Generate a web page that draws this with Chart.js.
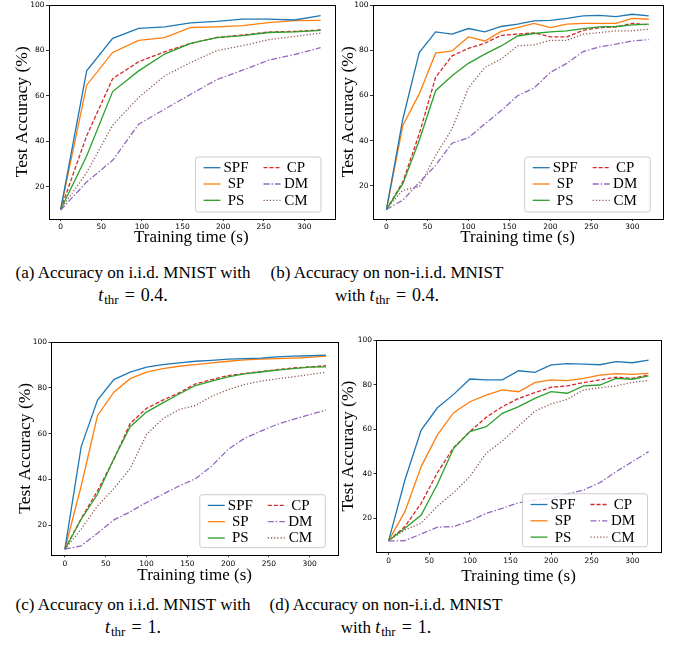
<!DOCTYPE html>
<html>
<head>
<meta charset="utf-8">
<title>Test accuracy vs training time</title>
<script src="https://cdn.jsdelivr.net/npm/chart.js"></script>
<style>
  body { margin: 0; background: #fff; width: 677px; height: 647px; position: relative; overflow: hidden; }
  .plot { position: absolute; }
  .cap { position: absolute; font-family: "Liberation Serif", "Times New Roman", serif; font-size: 17px;
         line-height: 22px; text-align: center; color: #000; white-space: nowrap; }
  .cap .m { font-size: 18px; }
  .cap .sb { font-size: 13px; position: relative; top: 3px; margin-left: 1px; }
  .cap .eq { margin: 0 6px; }
</style>
</head>
<body>
<canvas id="chartA" class="plot"></canvas>
<canvas id="chartB" class="plot"></canvas>
<canvas id="chartC" class="plot"></canvas>
<canvas id="chartD" class="plot"></canvas>

<div class="cap" style="left:0px; top:262px; width:266px;">(a) Accuracy on i.i.d. MNIST with<br><span class="m"><i>t</i><span class="sb">thr</span><span class="eq">=</span>0.4.</span></div>
<div class="cap" style="left:247px; top:262px; width:280px;">(b) Accuracy on non-i.i.d. MNIST<br>with <span class="m"><i>t</i><span class="sb">thr</span><span class="eq">=</span>0.4.</span></div>
<div class="cap" style="left:0px; top:594px; width:266px;">(c) Accuracy on i.i.d. MNIST with<br><span class="m"><i>t</i><span class="sb">thr</span><span class="eq">=</span>1.</span></div>
<div class="cap" style="left:246px; top:594px; width:280px;">(d) Accuracy on non-i.i.d. MNIST<br>with <span class="m"><i>t</i><span class="sb">thr</span><span class="eq">=</span>1.</span></div>

<script>
// series names (legend order)
const labels = ['SPF', 'SP', 'PS', 'CP', 'DM', 'CM'];
const xTicks = [0, 50, 100, 150, 200, 250, 300];
const yTicks = [20, 40, 60, 80, 100];

// (a) i.i.d., t_thr = 0.4
const timesA = [0, 32, 64, 96, 128, 160, 192, 224, 256, 288, 320];
const spfA = [10, 71, 85.3, 89.7, 90.4, 92.1, 92.8, 93.8, 93.8, 93.4, 95.3];
const spA  = [10, 64.7, 79.1, 84.4, 85.6, 90.1, 90.4, 90.9, 92.2, 93.1, 93.2];
const psA  = [10, 33.5, 61.9, 71.0, 78.4, 83.1, 85.6, 86.5, 87.9, 88.2, 88.8];
const cpA  = [10, 42.4, 67.6, 75.0, 79.4, 83.1, 85.7, 86.8, 88.1, 88.4, 89.0];
const dmA  = [9.7, 22.1, 31.6, 47.5, 54.1, 60.7, 67.1, 71.3, 75.7, 78.2, 81.2];
const cmA  = [10, 26.2, 47.1, 59.3, 68.8, 74.7, 79.9, 82.1, 84.7, 86.2, 87.6];

// (b), (c), (d) sampled every 20 s
const times20 = [0, 20, 40, 60, 80, 100, 120, 140, 160, 180, 200, 220, 240, 260, 280, 300, 320];

// (b) non-i.i.d., t_thr = 0.4
const spfB = [9.5, 49.6, 79.0, 88.1, 87.1, 89.6, 88.1, 90.5, 91.5, 93.0, 93.2, 94.1, 95.2, 95.4, 94.9, 95.9, 95.2];
const spB  = [9.5, 46.7, 60.7, 78.7, 79.7, 85.9, 84.1, 88.3, 90.0, 91.9, 90.0, 91.5, 91.9, 91.9, 91.9, 94.1, 93.7];
const psB  = [9.5, 21.0, 40.1, 62.1, 68.7, 74.2, 78.3, 81.9, 86.3, 87.4, 88.1, 88.6, 89.6, 90.3, 90.5, 91.2, 91.5];
const cpB  = [9.5, 21.8, 43.0, 68.0, 77.5, 80.8, 83.1, 86.6, 87.1, 87.7, 85.9, 85.9, 88.8, 90.0, 90.3, 91.9, 91.2];
const dmB  = [9.6, 13.7, 21.5, 29.1, 38.9, 41.3, 47.4, 53.3, 59.9, 63.3, 70.2, 74.2, 79.4, 81.5, 82.7, 84.1, 84.7];
const cmB  = [10.0, 18.1, 19.6, 33.5, 45.2, 63.3, 72.4, 76.1, 81.9, 82.4, 84.4, 84.4, 87.1, 87.8, 88.6, 88.6, 89.3];

// (c) i.i.d., t_thr = 1
const spfC = [9.5, 54.3, 74.6, 83.6, 86.8, 89.0, 90.1, 90.9, 91.6, 92.0, 92.5, 92.7, 93.0, 93.5, 93.8, 94.0, 94.3];
const spC  = [9.5, 37.1, 67.9, 78.1, 84.0, 86.8, 88.4, 89.4, 90.1, 90.9, 91.6, 92.2, 92.5, 92.7, 93.0, 93.3, 93.8];
const psC  = [9.5, 22.6, 33.5, 49.0, 63.0, 69.4, 73.4, 77.3, 81.0, 82.9, 84.8, 86.1, 86.9, 87.7, 88.4, 89.0, 89.1];
const cpC  = [9.5, 22.9, 35.0, 48.7, 64.4, 71.0, 74.6, 77.8, 81.7, 83.6, 85.3, 86.2, 87.1, 87.9, 88.7, 89.1, 89.7];
const dmC  = [9.5, 11.0, 16.5, 22.3, 25.8, 29.9, 33.5, 37.1, 40.3, 45.8, 53.1, 57.9, 61.1, 64.0, 66.2, 68.3, 70.2];
const cmC  = [9.5, 18.3, 28.4, 36.0, 44.7, 59.6, 66.5, 70.5, 72.3, 76.3, 79.2, 81.4, 82.9, 83.9, 84.8, 85.8, 86.8];

// (d) non-i.i.d., t_thr = 1
const spfD = [10.0, 37.2, 59.6, 69.6, 75.6, 82.5, 82.1, 82.1, 86.2, 85.5, 88.8, 89.4, 89.2, 88.9, 90.3, 89.8, 91.0];
const spD  = [10.0, 23.0, 43.2, 57.4, 67.4, 72.3, 75.3, 77.6, 76.8, 80.9, 82.1, 81.8, 82.8, 84.2, 84.9, 84.6, 85.0];
const psD  = [10.0, 15.5, 21.5, 35.3, 51.4, 58.9, 61.1, 67.1, 70.1, 73.8, 76.8, 76.1, 79.4, 79.8, 82.8, 82.4, 83.9];
const cpD  = [10.0, 16.3, 26.7, 40.5, 51.7, 58.9, 65.3, 70.1, 73.8, 76.4, 78.8, 79.4, 80.9, 82.1, 83.3, 82.8, 84.3];
const dmD  = [9.8, 10.0, 13.0, 16.0, 16.3, 18.8, 22.2, 24.5, 27.0, 28.2, 29.0, 30.9, 32.7, 36.0, 40.9, 45.4, 49.9];
const cmD  = [10.0, 14.8, 17.8, 25.5, 31.5, 38.7, 49.2, 54.7, 61.4, 68.1, 71.3, 73.4, 77.6, 78.6, 79.4, 81.0, 81.8];

// matplotlib-ish line styles per series
const styles = [
  { color: '#1f77b4', dash: [] },
  { color: '#ff7f0e', dash: [] },
  { color: '#2ca02c', dash: [] },
  { color: '#d62728', dash: [4, 2] },
  { color: '#9467bd', dash: [6, 2, 1.5, 2] },
  { color: '#8c564b', dash: [1.2, 2] }
];

const SERIF = '"Liberation Serif", "Times New Roman", serif';

// black frame round the plot area
const framePlugin = {
  id: 'frame',
  afterDatasetsDraw(chart) {
    const a = chart.chartArea, ctx = chart.ctx;
    ctx.save();
    ctx.strokeStyle = '#000';
    ctx.lineWidth = 1;
    ctx.strokeRect(Math.round(a.left) + 0.5, Math.round(a.top) + 0.5,
                   Math.round(a.right - a.left), Math.round(a.bottom - a.top));
    ctx.restore();
  }
};

// two-column legend box in the lower right corner
const boxLegend = {
  id: 'boxLegend',
  afterDraw(chart, args, opts) {
    const a = chart.chartArea, ctx = chart.ctx;
    const x0 = a.right - opts.right - opts.w;
    const y0 = a.bottom - opts.bottom - opts.h;
    ctx.save();
    ctx.beginPath();
    ctx.roundRect(x0, y0, opts.w, opts.h, 2.5);
    ctx.fillStyle = 'rgba(255,255,255,0.8)';
    ctx.fill();
    ctx.strokeStyle = '#cccccc';
    ctx.lineWidth = 1;
    ctx.stroke();
    chart.data.datasets.forEach((ds, i) => {
      const col = Math.floor(i / 3), row = i % 3;
      const lx = x0 + 8 + col * 60;
      const ly = y0 + 10.7 + row * 16.3;
      ctx.beginPath();
      ctx.setLineDash(ds.borderDash);
      ctx.strokeStyle = ds.borderColor;
      ctx.lineWidth = ds.borderWidth;
      ctx.moveTo(lx, ly);
      ctx.lineTo(lx + 17, ly);
      ctx.stroke();
      ctx.setLineDash([]);
      ctx.fillStyle = '#000';
      ctx.font = '15px ' + SERIF;
      ctx.textAlign = 'center';
      ctx.textBaseline = 'middle';
      ctx.fillText(ds.label, lx + 32.5, ly + 0.5);
    });
    ctx.restore();
  }
};

function buildChart(id, p) {
  const canvas = document.getElementById(id);
  canvas.width = p.w;
  canvas.height = p.h;
  canvas.style.left = p.left + 'px';
  canvas.style.top = p.top + 'px';

  const datasets = p.series.map((vals, i) => ({
    label: labels[i],
    data: vals.map((v, k) => ({ x: p.times[k], y: v })),
    borderColor: styles[i].color,
    borderDash: styles[i].dash,
    borderWidth: 1.3,
    pointRadius: 0,
    fill: false,
    tension: 0
  }));

  const tickFont = { family: '"DejaVu Sans"', size: 7.5 };
  const yWidth = p.area.l - p.left;
  const xHeight = (p.top + p.h) - p.area.b;

  new Chart(canvas, {
    type: 'line',
    data: { datasets: datasets },
    options: {
      responsive: false,
      animation: false,
      devicePixelRatio: 1,
      layout: { padding: { left: 0, top: p.area.t - p.top, right: (p.left + p.w) - p.area.r, bottom: 0 } },
      plugins: {
        legend: { display: false },
        tooltip: { enabled: false },
        boxLegend: p.legend
      },
      scales: {
        x: {
          type: 'linear',
          min: p.xMin, max: p.xMax,
          afterBuildTicks: s => { s.ticks = xTicks.map(v => ({ value: v })); },
          afterFit: s => { s.height = xHeight; },
          ticks: { font: tickFont, color: '#000', padding: 2, autoSkip: false, maxRotation: 0 },
          grid: { drawOnChartArea: false, drawTicks: true, tickLength: 2.5, color: '#000', lineWidth: 0.8 },
          border: { display: false },
          title: { display: true, text: 'Training time (s)', color: '#000',
                   font: { family: SERIF, size: 17, lineHeight: 1 }, padding: { top: 0, bottom: p.xTitlePad } }
        },
        y: {
          min: p.yMin, max: 100,
          afterBuildTicks: s => { s.ticks = yTicks.map(v => ({ value: v })); },
          afterFit: s => { s.width = yWidth; },
          ticks: { font: tickFont, color: '#000', padding: 1.5, autoSkip: false },
          grid: { drawOnChartArea: false, drawTicks: true, tickLength: 2.5, color: '#000', lineWidth: 0.8 },
          border: { display: false },
          title: { display: true, text: 'Test Accuracy (%)', color: '#000',
                   font: { family: SERIF, size: 17.5, lineHeight: 1 }, padding: { top: p.yTitlePad, bottom: 0 } }
        }
      }
    },
    plugins: [framePlugin, boxLegend]
  });
}

buildChart('chartA', {
  left: 0, top: -15, w: 340, h: 265,
  area: { l: 48.5, t: 5, r: 334, b: 218.5 },
  xMin: -15, xMax: 336.5, yMin: 6,
  times: timesA, series: [spfA, spA, psA, cpA, dmA, cmA],
  yTitlePad: 13.25, xTitlePad: 3.5,
  legend: { w: 125.5, h: 55, right: 13, bottom: 6.5 }
});

buildChart('chartB', {
  left: 338, top: -15.5, w: 339, h: 265.5,
  area: { l: 372.5, t: 4.5, r: 662.7, b: 218.5 },
  xMin: -17, xMax: 337, yMin: 5.6,
  times: times20, series: [spfB, spB, psB, cpB, dmB, cmB],
  yTitlePad: 1.75, xTitlePad: 3.5,
  legend: { w: 125.5, h: 55, right: 12.5, bottom: 6.5 }
});

buildChart('chartC', {
  left: 0, top: 322.3, w: 345, h: 269.7,
  area: { l: 51, t: 342.3, r: 338.3, b: 555.7 },
  xMin: -17, xMax: 335, yMin: 7.1,
  times: times20, series: [spfC, spC, psC, cpC, dmC, cmC],
  yTitlePad: 16.25, xTitlePad: 6.5,
  legend: { w: 125.5, h: 53, right: 13, bottom: 7 }
});

buildChart('chartD', {
  left: 338, top: 320, w: 339, h: 272,
  area: { l: 376, t: 340, r: 661, b: 552.3 },
  xMin: -15.6, xMax: 335.3, yMin: 4.75,
  times: times20, series: [spfD, spD, psD, cpD, dmD, cmD],
  yTitlePad: 1.75, xTitlePad: 6.5,
  legend: { w: 125, h: 53, right: 13.5, bottom: 5.5 }
});
</script>
</body>
</html>
